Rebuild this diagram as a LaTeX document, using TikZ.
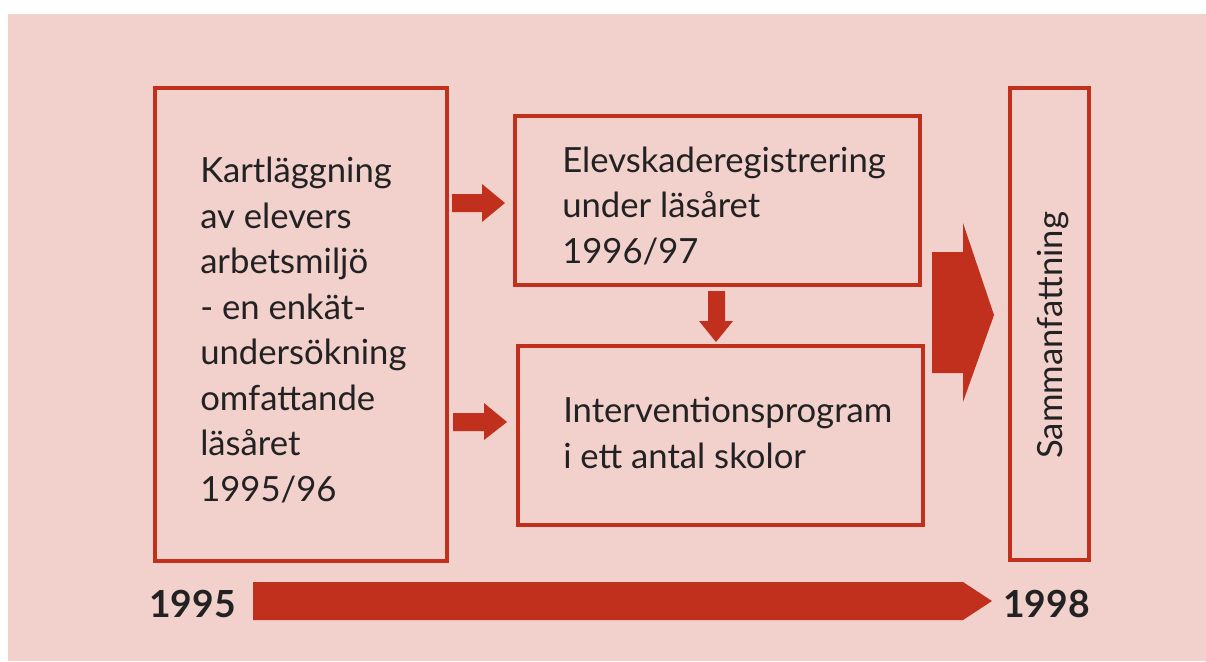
\documentclass[tikz,border=0pt]{standalone}
\usepackage{fontspec}
\setmainfont{Lato}
\definecolor{brick}{RGB}{192,48,28}
\definecolor{blush}{RGB}{242,208,204}
\definecolor{ink}{RGB}{34,34,34}
\tikzset{
  frame/.style={draw=brick, line width=3pt},
  bodytext/.style={text=ink, align=left, anchor=base west, font=\fontsize{26pt}{34.1pt}\selectfont},
  yeartext/.style={text=ink, anchor=base west, font=\fontsize{28pt}{34pt}\selectfont\bfseries},
  blockarrow/.style={fill=brick},
}

\begin{document}
\begin{tikzpicture}
[x=0.75pt, y=-0.75pt, every node/.style={inner sep=0pt}]
\useasboundingbox (0,0) rectangle (1206,661);
\fill [blush] (8,14) rectangle (1206,661);
\node (kart) [frame, minimum width=219pt, minimum height=354.4pt] at (301,324.25) {};
\node (elev) [frame, minimum width=304.1pt, minimum height=126.4pt] at (717.75,200.25) {};
\node (interv) [frame, minimum width=303.75pt, minimum height=134.6pt] at (720.5,435.25) {};
\node (samman) [frame, minimum width=59.25pt, minimum height=354pt] at (1049.5,324) {};
\node (kartText) [bodytext] at (200,501) {Kartläggning\\av elevers\\arbetsmiljö\\- en enkät-\\undersökning\\omfattande\\läsåret\\1995/96};
\node (elevText) [bodytext] at (562,263) {Elevskaderegistrering\\under läsåret\\1996/97};
\node (intervText) [bodytext] at (563,468) {Interventionsprogram\\i ett antal skolor};
\node (sammanText) [bodytext, rotate=90] at (1062,459) {Sammanfattning};
\node (start) [yeartext] at (149,617) {1995};
\node (end) [yeartext] at (1003,617) {1998};
\fill [blockarrow] (452,194) -- (482,194) -- (482,184) -- (505,203) -- (482,222) -- (482,212) -- (452,212) -- cycle;
\fill [blockarrow] (453,413) -- (484,413) -- (484,403) -- (507,422) -- (484,440) -- (484,431) -- (453,431) -- cycle;
\fill [blockarrow] (708,291) -- (725,291) -- (725,321) -- (733,321) -- (716,342) -- (699,321) -- (708,321) -- cycle;
\fill [blockarrow] (932,252) -- (963,252) -- (963,223) -- (994,315) -- (963,402) -- (963,373) -- (932,373) -- cycle;
\fill [blockarrow] (253,582) -- (963,582) -- (992,601) -- (963,620) -- (253,620) -- cycle;
\end{tikzpicture}
\end{document}
